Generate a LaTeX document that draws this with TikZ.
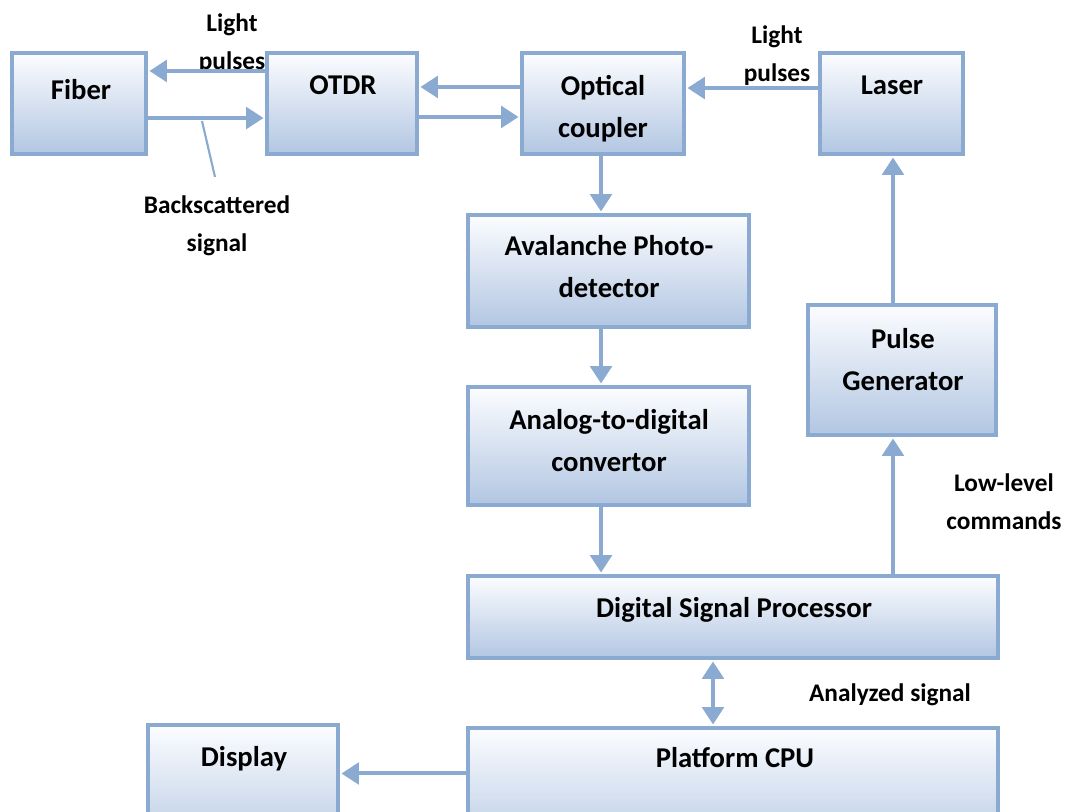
\documentclass[tikz,border=0pt]{standalone}
\usepackage{fontspec}
\setmainfont{Carlito}
\usetikzlibrary{arrows.meta,calc}
\definecolor{bordc}{RGB}{138,170,210}
\definecolor{topc}{RGB}{252,253,255}
\definecolor{midc}{RGB}{214,225,240}
\definecolor{botc}{RGB}{178,198,226}
\begin{document}
\begin{tikzpicture}[x=0.75pt,y=-0.75pt,
  blk/.style={draw=bordc, line width=3.2pt, top color=topc, middle color=midc, bottom color=botc, inner sep=0pt},
  arr/.style={draw=bordc, line width=3pt, -{Triangle[length=13pt,width=16pt]}, shorten >=1pt},
  darr/.style={draw=bordc, line width=3pt, {Triangle[length=13pt,width=16pt]}-{Triangle[length=13pt,width=16pt]}, shorten >=1pt, shorten <=1pt},
  lbl/.style={font=\bfseries\fontsize{21.5}{31.5}\selectfont, align=center, inner sep=0pt, anchor=base},
  sml/.style={font=\bfseries\fontsize{19}{28.5}\selectfont, align=center, inner sep=0pt, anchor=base}]
\useasboundingbox (0,0) rectangle (1065,812);
\fill[white] (0,0) rectangle (1065,812);
\clip (0,0) rectangle (1065,812);
% boxes
\node[blk, minimum width=100.5pt, minimum height=75.75pt] (fiber) at (79,103.5) {};
\node[blk, minimum width=112.5pt, minimum height=75.75pt] (otdr) at (342,103.5) {};
\node[blk, minimum width=121.5pt, minimum height=75.75pt] (oc) at (603,103.5) {};
\node[blk, minimum width=107.25pt, minimum height=75.75pt] (laser) at (891.5,103.5) {};
\node[blk, minimum width=210.75pt, minimum height=84pt] (apd) at (608.5,271) {};
\node[blk, minimum width=210.75pt, minimum height=88.5pt] (adc) at (608.5,446) {};
\node[blk, minimum width=141pt, minimum height=97.5pt] (pg) at (902,370) {};
\node[blk, minimum width=397.5pt, minimum height=61.5pt] (dsp) at (733,617) {};
\node[blk, minimum width=397.5pt, minimum height=97.5pt] (cpu) at (733,793) {};
\node[blk, minimum width=142.5pt, minimum height=99.75pt] (disp) at (243,791.5) {};
% box texts (anchor = baseline of last line)
\node[lbl] (tfiber) at (81,100) {Fiber};
\node[lbl] (totdr) at (343,95) {OTDR};
\node[lbl] (toc) at (603,138) {Optical\\coupler};
\node[lbl] (tlaser) at (892,95) {Laser};
\node[lbl] (tapd) at (609,298) {Avalanche Photo-\\detector};
\node[lbl] (tadc) at (609,472) {Analog-to-digital\\convertor};
\node[lbl] (tpg) at (903,391) {Pulse\\Generator};
\node[lbl] (tdsp) at (734,618) {Digital Signal Processor};
\node[lbl] (tcpu) at (735,768) {Platform CPU};
\node[lbl] (tdisp) at (244,767) {Display};
% connector labels
\node[sml] (llp) at (232,70) {Light\\pulses};
\node[sml] (rlp) at (777,82) {Light\\pulses};
\node[sml] (bsig) at (217,252) {Backscattered\\signal};
\node[sml] (llc) at (1004,530) {Low-level\\commands};
\node[sml] (asig) at (890,702) {Analyzed signal};
% connectors
\draw[arr] ([yshift=24.4pt]otdr.west) -- ([yshift=24.4pt]otdr.west -| fiber.east);
\draw[arr] ([yshift=-10.9pt]fiber.east) -- ([yshift=-10.9pt]fiber.east -| otdr.west);
\draw[arr] ([yshift=12.4pt]oc.west) -- ([yshift=12.4pt]oc.west -| otdr.east);
\draw[arr] ([yshift=-10.1pt]otdr.east) -- ([yshift=-10.1pt]otdr.east -| oc.west);
\draw[arr] ([yshift=11.6pt]laser.west) -- ([yshift=11.6pt]laser.west -| oc.east);
\draw[arr] ([xshift=-1.5pt]oc.south) -- ([xshift=-1.5pt]oc.south |- apd.north);
\draw[arr] ([xshift=-5.6pt]apd.south) -- ([xshift=-5.6pt]apd.south |- adc.north);
\draw[arr] ([xshift=-5.6pt]adc.south) -- ([xshift=-5.6pt]adc.south |- dsp.north);
\draw[arr] ([xshift=-6.75pt]pg.south |- dsp.north) -- ([xshift=-6.75pt]pg.south);
\draw[arr] ([xshift=-6.75pt]pg.north) -- ([xshift=-6.75pt]pg.north |- laser.south);
\draw[darr] ([xshift=-15pt]dsp.south) -- ([xshift=-15pt]dsp.south |- cpu.north);
\draw[arr] ([yshift=13.5pt]cpu.west |- disp.east) -- ([yshift=13.5pt]disp.east);
% backscatter pointer
\coordinate (bsa) at (202,121);
\coordinate (bsb) at (215,177);
\draw[bordc, line width=1.6pt] (bsa) -- (bsb);
\end{tikzpicture}
\end{document}
